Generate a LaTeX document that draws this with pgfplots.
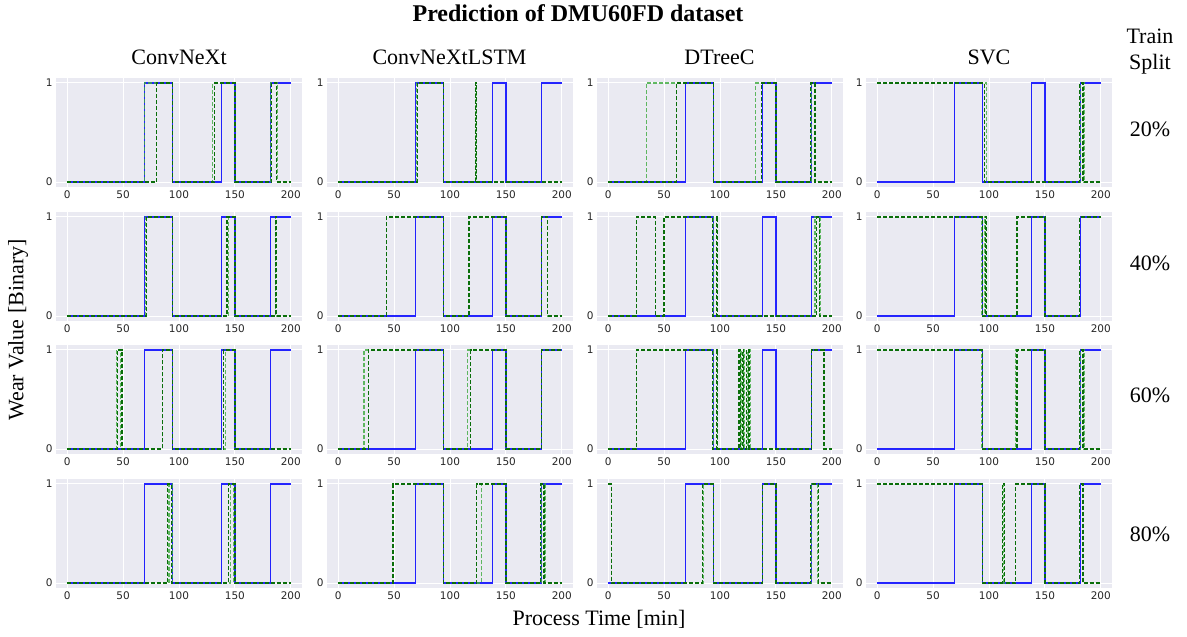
\documentclass[border=0pt]{standalone}
\usepackage{fontspec}
\setmainfont{Liberation Serif}
\newfontfamily\dejavu{DejaVu Sans}
\usepackage{pgfplots}
\pgfplotsset{compat=1.18}

\definecolor{sbbg}{HTML}{EAEAF2}
\definecolor{tickgray}{HTML}{262626}
\definecolor{gtblue}{HTML}{0000FF}
\definecolor{pdark}{HTML}{0A6E0A}
\definecolor{plight}{HTML}{3CAA3C}

\pgfplotsset{
  panel/.style={
    width=246pt, height=109pt, scale only axis,
    anchor=north west,
    xmin=-10, xmax=210, ymin=-0.05, ymax=1.05,
    xtick={0,50,100,150,200}, ytick={0,1},
    axis background/.style={fill=sbbg},
    grid=major, grid style={white, line width=1pt},
    axis line style={draw=none},
    major tick style={draw=none},
    tick label style={font=\fontsize{10.5}{12}\selectfont\dejavu, text=tickgray},
    /pgf/number format/assume math mode=true,
    const plot,
  },
  gt/.style={gtblue, line width=1.3pt, opacity=0.85},
  pa/.style={pdark, line width=1.2pt, dash pattern=on 4pt off 2pt},
  pb/.style={plight, line width=1.2pt, dash pattern=on 4pt off 2pt, opacity=0.8},
}

\newcommand{\panel}[4]{%
  \begin{axis}[panel, at={(#1pt,-#2pt)}]
    \addplot[gt] coordinates {(0,0)(69,1)(94,0)(138,1)(150,0)(182,1)(200,1)};
    \addplot[pb] coordinates {#4};
    \addplot[pa] coordinates {#3};
  \end{axis}}

\begin{document}
\begin{tikzpicture}
\path[use as bounding box] (0,0) rectangle (1187pt,-637pt);

% Row 1 : 20%
\panel{56}{78}{(0,0)(80,1)(94,0)(132,1)(150,0)(183,1)(187,0)(200,0)}{(0,0)(69,1)(94,0)(130,1)(150,0)(182,1)(188,0)(200,0)}
\panel{327}{78}{(0,0)(71,1)(94,0)(123,1)(124,0)(200,0)}{(0,0)(70,1)(94,0)(122.5,1)(123.5,0)(200,0)}
\panel{597}{78}{(0,0)(61,1)(94,0)(137,1)(150,0)(181,1)(185,0)(200,0)}{(0,0)(34,1)(94,0)(132,1)(150,0)(182,1)(185,0)(200,0)}
\panel{866}{78}{(0,1)(96,0)(181,1)(184,0)(200,0)}{(0,1)(98,0)(182,1)(185,0)(200,0)}

% Row 2 : 40%
\panel{56}{212}{(0,0)(71,1)(94,0)(143,1)(150,0)(186,1)(187,0)(200,0)}{(0,0)(70,1)(94,0)(144.5,1)(150,0)(186.5,1)(187.5,0)(200,0)}
\panel{327}{212}{(0,0)(43,1)(94,0)(117,1)(150,0)(182,1)(187,0)(200,0)}{(0,0)(43,1)(94,0)(117,1)(150,0)(182,1)(187.5,0)(200,0)}
\panel{597}{212}{(0,0)(25,1)(42,0)(50,1)(93,0)(97,1)(98,0)(186,1)(189,0)(200,0)}{(0,0)(25,1)(42,0)(50,1)(94,0)(97,1)(98,0)(185,1)(189.5,0)(200,0)}
\panel{866}{212}{(0,1)(94,0)(97,1)(98,0)(125,1)(150,0)(181,1)(200,1)}{(0,1)(93,0)(96.5,1)(98,0)(124.5,1)(150,0)(181,1)(200,1)}

% Row 3 : 60%
\panel{56}{345}{(0,0)(45,1)(49,0)(85,1)(94,0)(140,1)(150,0)(200,0)}{(0,0)(44,1)(48,0)(85,1)(94,0)(141.5,1)(150,0)(200,0)}
\panel{327}{345}{(0,0)(27,1)(94,0)(118.5,1)(150,0)(182,1)(200,1)}{(0,0)(23,1)(94,0)(116,1)(150,0)(182,1)(200,1)}
\panel{597}{345}{(0,0)(25,1)(93,0)(97,1)(98,0)(117,1)(118,0)(120,1)(121,0)(124,1)(126,0)(182,1)(193,0)(200,0)}{(0,0)(25,1)(94,0)(97,1)(97.6,0)(118,1)(119,0)(121,1)(122,0)(125,1)(127,0)(182,1)(193,0)(200,0)}
\panel{866}{345}{(0,1)(94,0)(125,1)(150,0)(181,1)(184,0)(200,0)}{(0,1)(93,0)(124,1)(150,0)(182,1)(185,0)(200,0)}

% Row 4 : 80%
\panel{56}{479}{(0,0)(90,1)(93,0)(144,1)(150,0)(200,0)}{(0,0)(91,1)(94,0)(146,1)(149,0)(200,0)}
\panel{327}{479}{(0,0)(49,1)(94,0)(124,1)(150,0)(181,1)(184,0)(200,0)}{(0,0)(49,1)(94,0)(128,1)(150,0)(182,1)(185,0)(200,0)}
\panel{597}{479}{(0,1)(3,0)(84,1)(94,0)(138,1)(150,0)(181,1)(188,0)(200,0)}{(0,1)(3,0)(85,1)(94,0)(138,1)(150,0)(182,1)(187,0)(200,0)}
\panel{866}{479}{(0,1)(94,0)(112,1)(114,0)(124,1)(150,0)(181,1)(184,0)(200,0)}{(0,1)(94,0)(112,1)(113,0)(124,1)(150,0)(181,1)(184,0)(200,0)}

% Titles and labels
\node[font=\fontsize{24}{28}\selectfont\bfseries] at (578pt,-13pt) {Prediction of DMU60FD dataset};
\begin{scope}[every node/.style={font=\fontsize{22}{26}\selectfont}]
\node at (179pt,-57pt) {ConvNeXt};
\node at (449.5pt,-57pt) {ConvNeXtLSTM};
\node at (719.5pt,-57pt) {DTreeC};
\node at (989pt,-57pt) {SVC};
\node[align=center] at (1150pt,-52pt) {Train\\Split};
\node at (1150pt,-129pt) {20\%};
\node at (1150pt,-263pt) {40\%};
\node at (1150pt,-395pt) {60\%};
\node at (1150pt,-534pt) {80\%};
\node[rotate=90] at (18pt,-330pt) {Wear Value [Binary]};
\node at (599pt,-619pt) {Process Time [min]};
\end{scope}
\end{tikzpicture}
\end{document}
